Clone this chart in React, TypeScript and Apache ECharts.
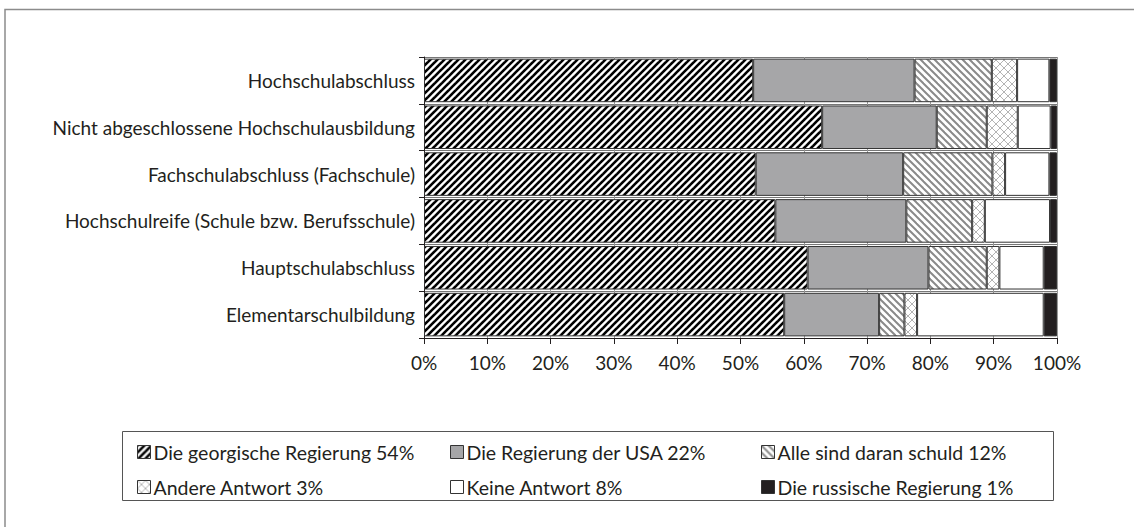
import React, { useEffect, useRef } from "react";
import * as echarts from "echarts";

const categories = [
  "Hochschulabschluss",
  "Nicht abgeschlossene Hochschulausbildung",
  "Fachschulabschluss (Fachschule)",
  "Hochschulreife (Schule bzw. Berufsschule)",
  "Hauptschulabschluss",
  "Elementarschulbildung",
];

const seriesNames = [
  "Die georgische Regierung 54%",
  "Die Regierung der USA 22%",
  "Alle sind daran schuld 12%",
  "Andere Antwort 3%",
  "Keine Antwort 8%",
  "Die russische Regierung 1%",
];

const georgian = [52.0, 62.9, 52.4, 55.5, 60.6, 56.9];
const usa = [25.5, 18.1, 23.3, 20.7, 19.1, 15.0];
const alle = [12.2, 7.9, 14.1, 10.4, 9.2, 4.0];
const andere = [4.0, 4.9, 2.0, 2.0, 2.0, 2.0];
const keine = [5.1, 5.2, 7.0, 10.3, 7.0, 20.0];
const russian = [1.2, 1.0, 1.2, 1.1, 2.1, 2.1];

const xTicks = [0, 10, 20, 30, 40, 50, 60, 70, 80, 90, 100];

const FONT = "Lato";
const TEXT = "#231f20";

function makeTile(size: number, draw: (ctx: CanvasRenderingContext2D, s: number) => void) {
  const c = document.createElement("canvas");
  c.width = size;
  c.height = size;
  const ctx = c.getContext("2d")!;
  ctx.fillStyle = "#ffffff";
  ctx.fillRect(0, 0, size, size);
  draw(ctx, size);
  return { image: c, repeat: "repeat" } as any;
}

function slashLines(color: string, width: number) {
  return (ctx: CanvasRenderingContext2D, s: number) => {
    ctx.strokeStyle = color;
    ctx.lineWidth = width;
    for (const x0 of [-s, 0, s]) {
      ctx.beginPath();
      ctx.moveTo(x0 - 1, s + 1);
      ctx.lineTo(x0 + s + 1, -1);
      ctx.stroke();
    }
  };
}

function backLines(color: string, width: number) {
  return (ctx: CanvasRenderingContext2D, s: number) => {
    ctx.strokeStyle = color;
    ctx.lineWidth = width;
    for (const x0 of [-s, 0, s]) {
      ctx.beginPath();
      ctx.moveTo(x0 - 1, -1);
      ctx.lineTo(x0 + s + 1, s + 1);
      ctx.stroke();
    }
  };
}

export default function App() {
  const ref = useRef<HTMLDivElement>(null);

  useEffect(() => {
    document.body.style.margin = "0";
    if (!ref.current) return;
    const chart = echarts.init(ref.current, undefined, { renderer: "svg" });

    const patGeorgian = makeTile(7, slashLines("#000000", 2.6));
    const patAlle = makeTile(7, backLines("#8a8a8a", 2));
    const patAndere = makeTile(8, (ctx, s) => {
      slashLines("#b4b4b4", 1)(ctx, s);
      backLines("#b4b4b4", 1)(ctx, s);
    });

    const fills = [patGeorgian, "#a6a6a8", patAlle, patAndere, "#ffffff", "#231f20"];
    const values = [georgian, usa, alle, andere, keine, russian];

    const series = seriesNames.map((name, i) => ({
      name,
      type: "bar",
      stack: "total",
      barCategoryGap: "7%",
      data: values[i],
      itemStyle: { color: fills[i], borderColor: "#333333", borderWidth: 1 },
      emphasis: { disabled: true },
    }));

    const legendCommon = {
      orient: "vertical",
      top: 441,
      padding: 0,
      itemWidth: 13,
      itemHeight: 13,
      itemGap: 13,
      icon: "rect",
      selectedMode: false,
      itemStyle: { borderColor: "#333333", borderWidth: 1 },
      textStyle: { fontFamily: FONT, fontSize: 19.5, color: TEXT, lineHeight: 22, padding: [0, 0, 0, -2] },
    };

    chart.setOption({
      animation: false,
      backgroundColor: "#ffffff",
      textStyle: { fontFamily: FONT },
      grid: { left: 424, right: 77, top: 57, height: 281 },
      xAxis: {
        type: "value",
        min: 0,
        max: 100,
        interval: 10,
        axisLine: { show: true, lineStyle: { color: "#231f20", width: 1 } },
        axisTick: { show: true, length: 6, lineStyle: { color: "#231f20" } },
        axisLabel: {
          formatter: (v: number) => (xTicks.includes(v) ? v + "%" : ""),
          fontFamily: FONT,
          fontSize: 19,
          color: TEXT,
          margin: 15,
        },
        splitLine: { show: true, lineStyle: { color: "#999999", width: 1 } },
      },
      yAxis: {
        type: "category",
        inverse: true,
        data: categories,
        axisLine: { show: true, lineStyle: { color: "#231f20", width: 1 } },
        axisTick: { show: true, length: 5, lineStyle: { color: "#231f20" } },
        axisLabel: { fontFamily: FONT, fontSize: 19, color: TEXT, margin: 9 },
        splitLine: { show: true, lineStyle: { color: "#777777", width: 1 } },
      },
      legend: [
        { ...legendCommon, left: 137, data: [seriesNames[0], seriesNames[3]] },
        { ...legendCommon, left: 450, data: [seriesNames[1], seriesNames[4]] },
        { ...legendCommon, left: 761, data: [seriesNames[2], seriesNames[5]] },
      ],
      graphic: [
        {
          type: "polyline",
          shape: { points: [[5, 527], [5, 9.5], [1134, 9.5]] },
          style: { stroke: "#8c8c8c", lineWidth: 1.5, fill: "none" },
          silent: true,
        },
        {
          type: "rect",
          shape: { x: 122.5, y: 431.5, width: 931, height: 69 },
          style: { stroke: "#555555", lineWidth: 1, fill: "none" },
          silent: true,
          z: -1,
        },
      ],
      series,
    } as any);

    return () => chart.dispose();
  }, []);

  return <div ref={ref} style={{ width: 1134, height: 527 }} />;
}
